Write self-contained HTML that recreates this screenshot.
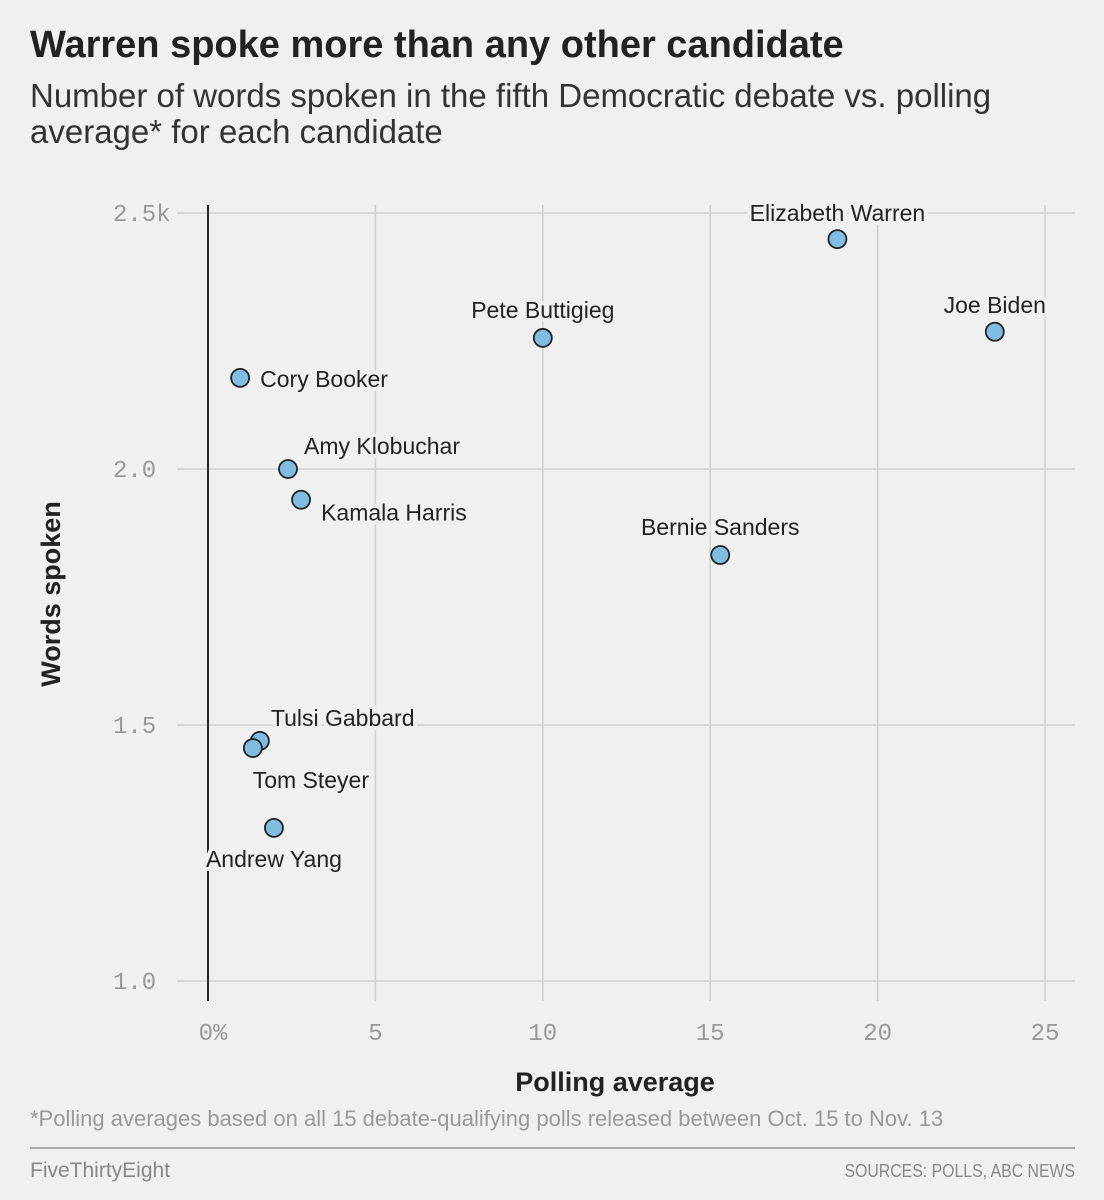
<!DOCTYPE html>
<html><head><meta charset="utf-8"><style>
body{margin:0;background:#f0f0f0;font-family:"Liberation Sans",sans-serif;}
#wrap{position:relative;width:1104px;height:1200px;overflow:hidden;background:#f0f0f0;}
.t{position:absolute;white-space:nowrap;}
</style></head><body>
<div id="wrap">
<div class="t" style="left:30px;top:24px;font-size:38px;font-weight:bold;color:#222;">Warren spoke more than any other candidate</div>
<div class="t" style="left:30px;top:78px;font-size:33px;color:#333;line-height:36px;white-space:normal;width:1010px;">Number of words spoken in the fifth Democratic debate vs. polling average* for each candidate</div>
<svg id="chart" width="1104" height="1200" style="position:absolute;left:0;top:0;"></svg>
<div class="t" style="left:30px;top:1106px;font-size:22px;color:#999;">*Polling averages based on all 15 debate-qualifying polls released between Oct. 15 to Nov. 13</div>
<div style="position:absolute;left:30px;top:1147px;width:1045px;height:2px;background:#aaa;"></div>
<div class="t" style="left:30px;top:1159px;font-size:21px;color:#888;">FiveThirtyEight</div>
<div class="t" style="right:29px;top:1161px;font-size:18px;color:#888;transform:scaleX(0.88);transform-origin:right center;">SOURCES: POLLS, ABC NEWS</div>
</div>
<script>
const names=["Elizabeth Warren","Joe Biden","Pete Buttigieg","Cory Booker","Amy Klobuchar","Kamala Harris","Bernie Sanders","Tulsi Gabbard","Tom Steyer","Andrew Yang"];
const polls=[18.8,23.5,10.0,0.96,2.39,2.78,15.3,1.55,1.34,1.97];
const words=[2449,2268,2256,2178,2000,1940,1832,1469,1455,1299];
const xTicks=[0,5,10,15,20,25];
const xTickLabels=["0%","5","10","15","20","25"];
const yTicks=[1000,1500,2000,2500];
const yTickLabels=["1.0","1.5","2.0","2.5k"];
const NS="http://www.w3.org/2000/svg";
const svg=document.getElementById('chart');
function X(v){return 208+v*33.48;}
function Y(v){return 981-(v-1000)*0.512;}
function mk(t,a,p){const e=document.createElementNS(NS,t);for(const k in a)e.setAttribute(k,a[k]);(p||svg).appendChild(e);return e;}
const lab=[[0,-20,"middle"],[0,-21,"middle"],[0,-22,"middle"],[20,7,"start"],[16,-17,"start"],[20,19,"start"],[0,-22,"middle"],[11,-17,"start"],[58,38,"middle"],[0,37,"middle"]];
yTicks.forEach((v,i)=>{
 const l=mk('line',{x1:177,x2:1075,y1:Y(v),y2:Y(v),stroke:'#cfcfcf','stroke-width':1.5});
 
 const t=mk('text',{x:113,y:Y(v)+8,'text-anchor':'start','font-size':24,fill:'#999','font-family':'Liberation Mono, monospace'});
 t.textContent=yTickLabels[i];
});
xTicks.forEach((v,i)=>{
 const l=mk('line',{x1:X(v),x2:X(v),y1:205,y2:1001,stroke:v===0?'#222':'#cfcfcf','stroke-width':v===0?2:1.5});
 
 const t=mk('text',{x:X(v)+(v===0?5:0),y:1040,'text-anchor':'middle','font-size':24,fill:'#999','font-family':'Liberation Mono, monospace'});
 t.textContent=xTickLabels[i];
});
names.forEach((n,i)=>{
 const x=X(polls[i]),y=Y(words[i]),o=lab[i];
 const tx=mk('text',{x:x+o[0],y:y+o[1]+2,'text-anchor':o[2],'font-size':23,fill:'#222',stroke:'#f0f0f0','stroke-width':8,'paint-order':'stroke'});
 tx.textContent=n;
});
names.forEach((n,i)=>{
 const c=mk('circle',{cx:X(polls[i]),cy:Y(words[i]),r:9,fill:'#7fbde3',stroke:'#222','stroke-width':1.8});
 
});
const xt=mk('text',{x:615,y:1091,'text-anchor':'middle','font-size':27,'font-weight':'bold',fill:'#222'});
xt.textContent='Polling average';
const yt=mk('text',{x:0,y:0,'text-anchor':'middle','font-size':27,'font-weight':'bold',fill:'#222',transform:'translate(60,594) rotate(-90)'});
yt.textContent='Words spoken';
</script>
</body></html>
